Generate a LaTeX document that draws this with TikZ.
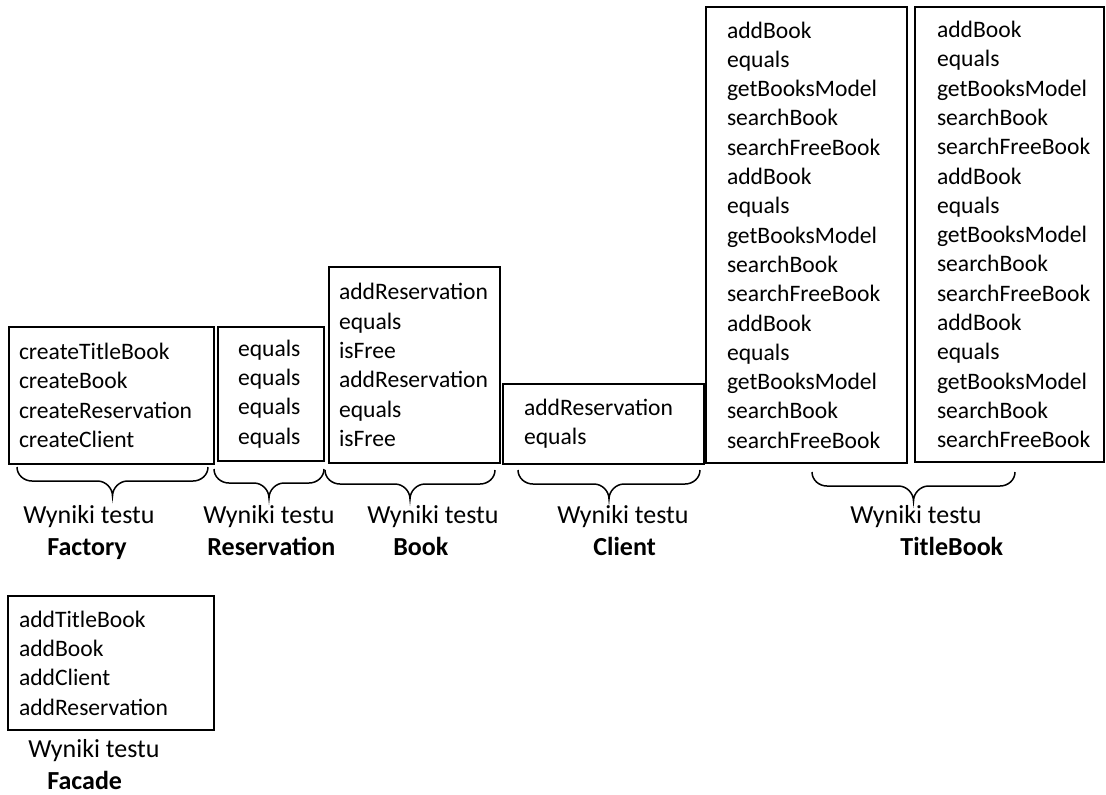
\documentclass[tikz,border=0pt]{standalone}
\usepackage{fontspec}
\setmainfont{Carlito}
\usetikzlibrary{calc}
\hfuzz=40pt

\newcommand\tbcalls{addBook\\equals\\getBooksModel\\searchBook\\searchFreeBook}
\newcommand\wyniki[2]{Wyniki testu\\\hspace*{#1}\textbf{#2}}

\tikzset{
  box/.style={draw, line width=1pt, anchor=north west, align=left,
              inner ysep=0pt, font=\fontsize{11.8pt}{14.65pt}\selectfont},
  lbl/.style={anchor=north west, align=left, inner sep=0pt,
              font=\fontsize{13pt}{16pt}\selectfont},
  % curly brace, tip pointing down
  brc/.style={line width=0.75pt, to path={
      (\tikztostart) .. controls +(0,8) and +(-8,0) .. ($(\tikztostart)+(15,14)$)
      -- ($(\tikztostart)!.5!(\tikztotarget)+(-15,14)$)
      .. controls +(8,0) and +(0,-8) .. ($(\tikztostart)!.5!(\tikztotarget)+(0,29)$)
      .. controls +(0,-8) and +(-8,0) .. ($(\tikztostart)!.5!(\tikztotarget)+(15,14)$)
      -- ($(\tikztotarget)+(-15,14)$)
      .. controls +(8,0) and +(0,8) .. (\tikztotarget)}},
}

\begin{document}
\begin{tikzpicture}[x=0.5pt, y=-0.5pt]
  \useasboundingbox (0,0) rectangle (1106,794);

  % result boxes
  \node[box, inner xsep=5pt, text width=92.5pt, minimum height=68.5pt]
    (factory) at (8,326)
    {createTitleBook\\createBook\\createReservation\\createClient};
  \node[box, inner xsep=10pt, text width=33pt, minimum height=67pt]
    (reservation) at (217,326)
    {equals\\equals\\equals\\equals};
  \node[box, inner xsep=5pt, text width=75.5pt, minimum height=98pt]
    (book) at (328,266)
    {addReservation\\equals\\isFree\\addReservation\\equals\\isFree};
  \node[box, inner xsep=10.5pt, text width=79.5pt, minimum height=40pt]
    (client) at (502,383)
    {addReservation\\equals};
  \node[box, inner xsep=10.5pt, text width=79.5pt, minimum height=228pt]
    (titleA) at (705,6)
    {\tbcalls\\\tbcalls\\\tbcalls};
  \node[box, inner xsep=11pt, text width=72.5pt, minimum height=227.5pt]
    (titleB) at (914,6)
    {\tbcalls\\\tbcalls\\\tbcalls};
  \node[box, inner xsep=5.5pt, text width=92pt, minimum height=67pt]
    (facade) at (7,595)
    {addTitleBook\\addBook\\addClient\\addReservation};

  % braces
  \draw[brc] ($(factory.south west)+(9,2)$) to ($(factory.south east)+(-7,2)$);
  \draw[brc] ($(reservation.south west)+(-3,7)$) to ($(reservation.south east)+(-1,7)$);
  \draw[brc] ($(book.south west)+(-3,6)$) to ($(book.south east)+(-6,6)$);
  \draw[brc] ($(client.south west)+(16,5)$) to ($(client.south east)+(-5,5)$);
  \draw[brc] ($(titleA.south west)+(107,8)$) to ($(titleB.south east)+(-90,9)$);

  % labels
  \node[lbl] (factoryLbl) at (23,505) {\wyniki{12pt}{Factory}};
  \node[lbl] (reservationLbl) at (203,505) {\wyniki{2pt}{Reservation}};
  \node[lbl] (bookLbl) at (367,505) {\wyniki{13pt}{Book}};
  \node[lbl] (clientLbl) at (557,505) {\wyniki{18pt}{Client}};
  \node[lbl] (titleLbl) at (850,505) {\wyniki{25pt}{TitleBook}};
  \node[lbl] (facadeLbl) at (28,739) {\wyniki{9.5pt}{Facade}};
\end{tikzpicture}
\end{document}
